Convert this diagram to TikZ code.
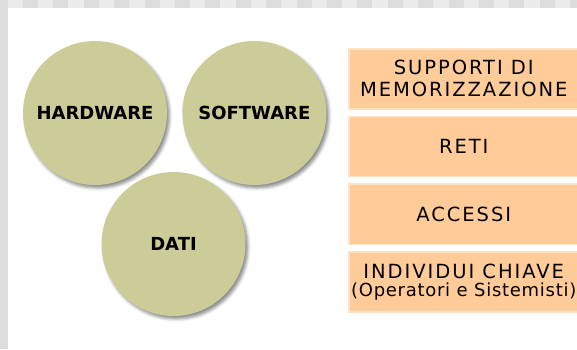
\documentclass[tikz,border=0pt]{standalone}
\usepackage{fontspec}
\setmainfont{DejaVu Sans}
\newfontfamily\boxfont[LetterSpace=10]{DejaVu Sans}
\newfontfamily\notefont[LetterSpace=4]{DejaVu Sans}
\usetikzlibrary{positioning,shadows.blur}
\definecolor{myolive}{RGB}{204,204,153}
\definecolor{myorange}{RGB}{255,204,153}
\definecolor{myedge}{RGB}{255,226,196}
\definecolor{mygrey}{RGB}{220,220,220}
\definecolor{mylight}{RGB}{235,235,235}

\begin{document}
\begin{tikzpicture}[x=1pt,y=-1pt,
  disc/.style={circle,fill=myolive,minimum size=144pt,inner sep=0pt,
    font=\bfseries\fontsize{18}{22}\selectfont,
    blur shadow={shadow xshift=2.5pt,shadow yshift=-3pt,shadow blur radius=3pt,shadow opacity=45}},
  topic/.style={rectangle,fill=myorange,draw=myedge,line width=1.5pt,
    minimum width=230pt,minimum height=60.2pt,inner sep=0pt,align=center,
    font=\boxfont\fontsize{19.5}{22}\selectfont}]

 \useasboundingbox (0,0) rectangle (577,349);

  % checkered frame on top and left
 \fill[mylight] (0,0) rectangle (577,8);
 \foreach \i in {0,...,18}
   \fill[mygrey] ({23+30.4*\i},0) rectangle +(15,8);
 \fill[mygrey] (0,0) rectangle (8,349);

  % the three circles
 \node[disc] (hardware) at (95,113) {HARDWARE};
 \node[disc,right=15pt of hardware] (software) {SOFTWARE};
 \node[disc] (dati) at (173.5,244) {DATI};

  % column of boxes on the right
 \node[topic,anchor=north west] (supporti) at (348,48) {SUPPORTI DI\\MEMORIZZAZIONE};
 \node[topic,below=6pt of supporti] (reti) {RETI};
 \node[topic,below=6pt of reti] (accessi) {ACCESSI};
 \node[topic,below=6pt of accessi,font=\boxfont\fontsize{19.5}{17.5}\selectfont] (individui)
   {INDIVIDUI CHIAVE\\{\notefont\fontsize{18}{17.5}\selectfont(Operatori e Sistemisti)}};

\end{tikzpicture}
\end{document}
